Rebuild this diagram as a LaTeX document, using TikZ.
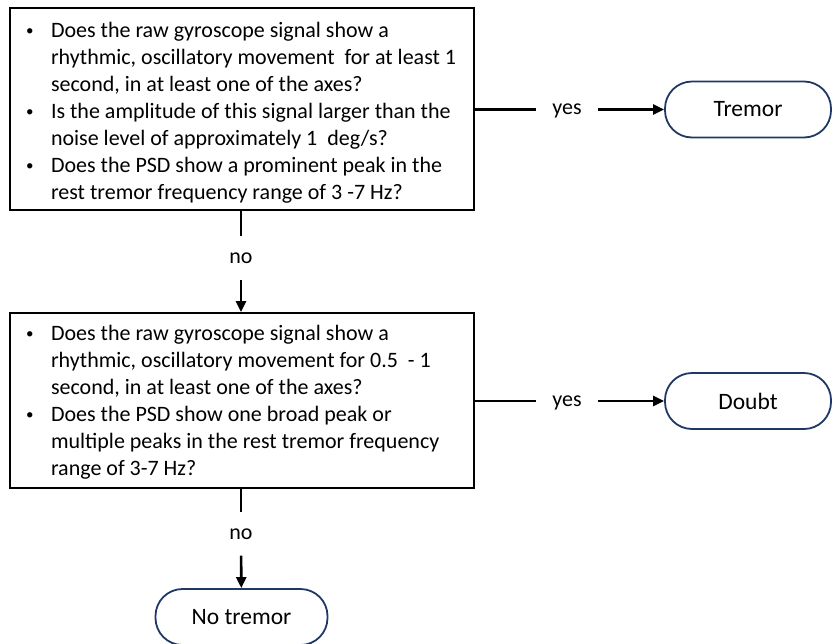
\documentclass[tikz,border=0pt]{standalone}
\usepackage{fontspec}
\setmainfont{Carlito}
\usetikzlibrary{arrows.meta}
\definecolor{navy}{RGB}{31,56,100}
\newcommand{\qb}{\raisebox{2pt}{\fontsize{15}{15}\selectfont\textbullet}}
\tikzset{
  qbox/.style={draw=black, line width=2pt, minimum width=464pt, inner sep=0pt, font=\fontsize{22}{27}\selectfont},
  term/.style={draw=navy, line width=1.8pt, rounded corners=27pt, minimum width=166pt, minimum height=56pt, font=\fontsize{23.5}{26}\selectfont},
  lbl/.style={inner sep=0pt, text height=10pt, text depth=0pt, minimum width=61pt, minimum height=43pt, font=\fontsize{22}{24}\selectfont},
  conn/.style={line width=2.6pt},
  arr/.style={line width=2.6pt, -{Triangle[length=11pt,width=10pt]}}
}
\begin{document}
\begin{tikzpicture}[x=1pt,y=-1pt]
\useasboundingbox (0,0) rectangle (832,643);
\node[qbox, minimum height=202pt] (q1) at (242,109) {\raisebox{-4pt}[\height][\depth]{\makebox[432pt][l]{%
\begin{tabular}{@{}p{25pt}@{}l@{}}
\qb & Does the raw gyroscope signal show a\\
 & rhythmic, oscillatory movement\ \ for at least 1\\
 & second, in at least one of the axes?\\
\qb & Is the amplitude of this signal larger than the\\
 & noise level of approximately 1\ \ deg/s?\\
\qb & Does the PSD show a prominent peak in the\\
 & rest tremor frequency range of 3\ -7 Hz?
\end{tabular}}}};
\node[qbox, minimum height=175pt] (q2) at (242,400.5) {\raisebox{-2pt}[\height][\depth]{\makebox[432pt][l]{%
\begin{tabular}{@{}p{25pt}@{}l@{}}
\qb & Does the raw gyroscope signal show a\\
 & rhythmic, oscillatory movement for 0.5\ \ - 1\\
 & second, in at least one of the axes?\\
\qb & Does the PSD show one broad peak or\\
 & multiple peaks in the rest tremor frequency\\
 & range of 3-7 Hz?
\end{tabular}}}};
\node[term] (tremor) at (748,109.5) {Tremor};
\node[term] (doubt) at (748,401) {Doubt};
\node[term, minimum width=172pt] (notremor) at (241.5,617) {No tremor};
\node[lbl] (y1) at (567,109.5) {yes};
\node[lbl] (y2) at (567,401) {yes};
\node[lbl] (n1) at (241,258) {no};
\node[lbl] (n2) at (241,534) {no};
\draw[conn] (q1.east |- y1) -- (y1);
\draw[arr] (y1) -- (tremor);
\draw[conn] (q2.east |- y2) -- (y2);
\draw[arr] (y2) -- (doubt);
\draw[conn] (q1.south -| n1) -- (n1);
\draw[arr] (n1) -- (q2.north -| n1);
\draw[conn] (q2.south -| n2) -- (n2);
\draw[arr] (n2) -- (notremor);
\end{tikzpicture}
\end{document}
